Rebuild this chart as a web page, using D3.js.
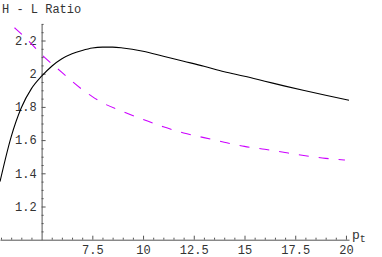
<!DOCTYPE html>
<html>
<head>
<meta charset="utf-8">
<script src="https://cdn.jsdelivr.net/npm/d3@7"></script>
<style>
  body { margin: 0; background: #fff; }
  svg { display: block; }
  .axis text { font-family: "Liberation Mono", "DejaVu Sans Mono", monospace; font-size: 12px; fill: #333; }
  .axis path, .axis line { stroke: #555; }
</style>
</head>
<body>
<div id="chart"></div>
<script>
// chart size
const width = 382;
const height = 257;

// H - L ratio, solid black curve
const blackP = [2.95, 3.5, 4, 4.5, 5, 5.5, 6, 6.5, 7, 7.5, 8, 8.5, 9, 10, 11, 12, 13, 14, 15, 16, 17, 18, 19, 20.15];
const blackV = [1.35, 1.62, 1.795, 1.91, 1.985, 2.045, 2.09, 2.12, 2.14, 2.155, 2.16, 2.16, 2.155, 2.135, 2.105, 2.075, 2.045, 2.012, 1.985, 1.955, 1.925, 1.897, 1.87, 1.84];

// H - L ratio, dashed magenta curve (clipped at the top of the plot)
const magentaP = [2.95, 3.5, 4, 4.5, 5, 5.5, 6, 6.5, 7, 7.5, 8, 9, 10, 11, 12, 13, 14, 15, 16, 17, 18, 19, 19.95];
const magentaV = [2.36, 2.295, 2.24, 2.18, 2.115, 2.06, 2.008, 1.955, 1.905, 1.862, 1.825, 1.772, 1.725, 1.68, 1.643, 1.615, 1.587, 1.562, 1.545, 1.525, 1.506, 1.49, 1.48];

// tick values
const xTicks = [7.5, 10, 12.5, 15, 17.5, 20];
const yTicks = [1.2, 1.4, 1.6, 1.8, 2, 2.2];

const svg = d3.select('#chart')
  .append('svg')
  .attr('width', width)
  .attr('height', height);

// scales, axes cross at p = 5 and ratio = 1
const x = d3.scaleLinear().domain([2.95, 20.15]).range([0, 349]);
const y = d3.scaleLinear().domain([1, 2.3]).range([239.7, 23.9]);

// clip the curves to the plot range
svg.append('clipPath')
  .attr('id', 'plot-clip')
  .append('rect')
  .attr('x', x.range()[0])
  .attr('y', y(2.3))
  .attr('width', x.range()[1] - x.range()[0] + 2)
  .attr('height', y(1) - y(2.3));

// minor ticks every 0.5 on x and 0.05 on y
const xMinor = d3.range(3, 20.01, 0.5).filter(d => xTicks.indexOf(d) < 0 && d !== 5);
const yMinor = d3.range(1.05, 2.31, 0.05).map(d => +d.toFixed(2))
  .filter(d => yTicks.indexOf(d) < 0);

// x axis
const xAxis = svg.append('g')
  .attr('class', 'axis')
  .attr('transform', `translate(0,${y(1)})`)
  .call(d3.axisBottom(x).tickValues(xTicks).tickSize(-4).tickSizeOuter(0).tickPadding(6)
    .tickFormat(d3.format('')));
xAxis.append('g')
  .call(d3.axisBottom(x).tickValues(xMinor).tickSize(-2).tickSizeOuter(0).tickFormat(''))
  .select('.domain').remove();

// y axis
const yAxis = svg.append('g')
  .attr('class', 'axis')
  .attr('transform', `translate(${x(5)},0)`)
  .call(d3.axisLeft(y).tickValues(yTicks).tickSize(-4).tickSizeOuter(0).tickPadding(5)
    .tickFormat(d3.format('')));
yAxis.append('g')
  .call(d3.axisLeft(y).tickValues(yMinor).tickSize(-2).tickSizeOuter(0).tickFormat(''))
  .select('.domain').remove();

// axis labels
svg.append('text')
  .attr('x', 2)
  .attr('y', 13)
  .style('font-family', '"Liberation Mono", monospace')
  .style('font-size', '12px')
  .style('fill', '#333')
  .text('H - L Ratio');

const pLabel = svg.append('text')
  .attr('x', 352)
  .attr('y', 239)
  .style('font-family', '"Liberation Mono", monospace')
  .style('font-size', '13px')
  .style('fill', '#333')
  .text('p');
pLabel.append('tspan')
  .attr('dy', 3)
  .style('font-size', '10px')
  .text('t');

// curves
const line = d3.line()
  .x(d => x(d[0]))
  .y(d => y(d[1]))
  .curve(d3.curveMonotoneX);

const curves = svg.append('g').attr('clip-path', 'url(#plot-clip)');

curves.append('path')
  .datum(magentaP.map((p, i) => [p, magentaV[i]]))
  .attr('d', line)
  .attr('fill', 'none')
  .attr('stroke', '#cc00ff')
  .attr('stroke-width', 1.1)
  .attr('stroke-dasharray', '10,10');

curves.append('path')
  .datum(blackP.map((p, i) => [p, blackV[i]]))
  .attr('d', line)
  .attr('fill', 'none')
  .attr('stroke', '#000')
  .attr('stroke-width', 1.1);
</script>
</body>
</html>
